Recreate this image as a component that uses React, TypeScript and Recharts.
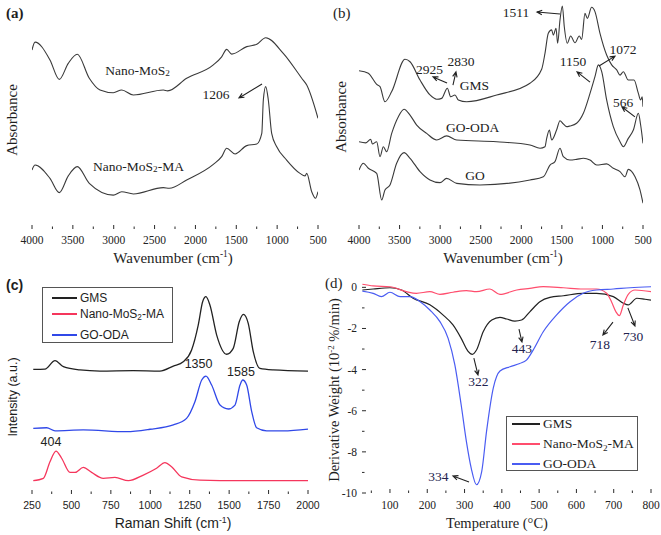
import React from "react"
import { LineChart, Line, XAxis, YAxis, ReferenceArea, ReferenceDot, ReferenceLine } from "recharts"

const SERIF = '"Liberation Serif", "Times New Roman", serif'
const SANS = '"Liberation Sans", Arial, sans-serif'
const INK = "#2b2b2b"

// (a) FTIR, nano-MoS2 samples
const wnMoS2 = [4000, 3963, 3780, 3666, 3556, 3446, 3299, 3168, 3005, 2902, 2760, 2393, 2340, 2107, 1781, 1679, 1617, 1556, 1372, 1249, 1140, 925, 699, 638, 500]
const absMoS2 = [79.2, 82.7, 74.8, 66.2, 73.3, 77.3, 66.7, 61.5, 60.3, 61.5, 59.3, 61.5, 61.1, 66.7, 72.6, 76.2, 79.5, 77.4, 80.7, 81.7, 84.6, 77.7, 66.7, 63.7, 49.0]
const wnMoS2MA = [4000, 3963, 3780, 3666, 3556, 3446, 3299, 3005, 2902, 2760, 2393, 2320, 2107, 1781, 1679, 1617, 1515, 1372, 1249, 1188, 1169, 1140, 1108, 1067, 1005, 884, 720, 660, 638, 577, 530, 500]
const absMoS2MA = [26.1, 28.3, 22.4, 16.1, 23.5, 27.6, 20.2, 15.0, 16.5, 15.5, 18.3, 18.0, 21.7, 28.6, 32.0, 35.7, 33.2, 36.9, 37.6, 42.3, 57.1, 63.0, 57.1, 42.3, 36.4, 30.5, 24.6, 23.5, 24.6, 16.5, 13.6, 16.5]

// (b) FTIR, graphene samples
const wnGMS = [4000, 3885, 3782, 3741, 3680, 3597, 3433, 3371, 3248, 3125, 3043, 2981, 2911, 2870, 2817, 2776, 2673, 2303, 1893, 1749, 1708, 1667, 1626, 1605, 1572, 1552, 1523, 1494, 1470, 1433, 1392, 1338, 1285, 1256, 1215, 1186, 1133, 1092, 1030, 948, 886, 824, 783, 742, 681, 611, 557, 529, 510, 500]
const absGMS = [70.0, 68.9, 64.0, 63.0, 56.3, 60.8, 75.1, 74.0, 65.9, 59.3, 57.4, 57.8, 62.3, 58.5, 59.3, 57.1, 56.3, 59.3, 64.5, 70.7, 77.7, 86.6, 88.1, 85.8, 88.8, 82.2, 92.5, 98.7, 89.5, 82.2, 85.4, 82.4, 85.4, 83.9, 95.4, 93.2, 98.1, 96.2, 86.6, 77.0, 72.6, 70.4, 68.1, 69.6, 65.9, 65.9, 60.0, 57.1, 58.5, 54.1]
const wnGOODA = [4000, 3918, 3856, 3835, 3782, 3741, 3700, 3659, 3597, 3515, 3445, 3371, 3289, 3166, 3043, 2920, 2796, 2303, 1893, 1769, 1708, 1687, 1654, 1626, 1565, 1523, 1482, 1441, 1400, 1318, 1235, 1153, 1092, 1050, 1009, 948, 866, 783, 742, 681, 619, 557, 529, 500]
const absGOODA = [38.6, 38.1, 39.7, 37.6, 38.6, 32.0, 36.4, 34.2, 42.3, 49.7, 53.0, 50.4, 46.0, 42.3, 39.4, 41.2, 39.4, 38.6, 37.2, 35.7, 36.4, 40.1, 43.8, 39.4, 43.8, 47.9, 46.5, 45.3, 45.6, 46.8, 51.2, 60.0, 67.4, 72.6, 69.6, 57.1, 45.3, 38.6, 36.4, 40.1, 43.8, 51.2, 46.0, 37.9]
const wnGO = [4000, 3947, 3885, 3782, 3720, 3680, 3618, 3536, 3445, 3371, 3248, 3125, 3002, 2920, 2796, 2509, 1893, 1728, 1646, 1585, 1523, 1482, 1400, 1318, 1235, 1153, 1071, 948, 866, 783, 722, 681, 598, 537, 500]
const absGO = [26.1, 29.1, 26.9, 24.6, 12.8, 17.3, 19.5, 29.1, 33.8, 31.3, 25.4, 21.7, 20.5, 22.4, 20.2, 19.5, 21.7, 23.1, 28.3, 29.8, 35.7, 32.0, 30.5, 30.8, 31.3, 30.5, 28.3, 28.8, 26.9, 25.4, 23.1, 26.4, 23.1, 17.3, 11.4]

// (c) Raman
const ramGMS = [258, 332, 396, 449, 554, 681, 892, 1061, 1146, 1209, 1262, 1304, 1332, 1353, 1378, 1421, 1484, 1526, 1564, 1590, 1621, 1653, 1695, 1780, 2000]
const intGMS = [57.2, 57.3, 61.2, 58.4, 56.9, 56.4, 56.6, 56.4, 58.7, 60.7, 66.1, 77.5, 88.2, 90.5, 86.7, 72.9, 64.1, 66.8, 79.0, 82.4, 78.3, 65.3, 57.6, 56.9, 56.4]
const ramMA = [258, 322, 364, 402, 438, 491, 523, 575, 628, 702, 776, 861, 956, 1040, 1093, 1135, 1199, 1315, 1569, 2000]
const intMA = [6.1, 7.2, 14.8, 19.7, 16.4, 9.9, 9.9, 12.2, 9.9, 7.2, 7.6, 6.1, 8.7, 11.8, 14.4, 12.5, 7.9, 6.4, 6.1, 6.1]
const ramODA = [258, 343, 396, 575, 850, 998, 1146, 1230, 1283, 1326, 1353, 1389, 1442, 1495, 1537, 1569, 1586, 1611, 1643, 1674, 1738, 1843, 2000]
const intODA = [30.1, 30.4, 29.0, 29.4, 28.6, 29.7, 31.7, 34.7, 42.3, 52.3, 54.1, 50.0, 40.8, 39.0, 40.8, 50.0, 52.3, 50.0, 37.8, 30.4, 29.0, 29.0, 29.8]

// (d) DTG
const tGMS = [26, 55, 100, 131, 162, 207, 242, 269, 291, 309, 321, 332, 350, 373, 395, 413, 435, 453, 475, 502, 529, 565, 618, 654, 699, 726, 739, 762, 784, 800]
const dGMS = [-0.13, -0.08, -0.02, -0.13, -0.53, -0.85, -1.34, -1.83, -2.48, -3.10, -3.26, -3.05, -2.16, -1.59, -1.46, -1.54, -1.64, -1.59, -1.19, -0.70, -0.49, -0.41, -0.29, -0.29, -0.45, -0.77, -0.85, -0.53, -0.58, -0.62]
const tMA = [26, 55, 100, 144, 171, 207, 234, 269, 305, 332, 368, 395, 440, 475, 511, 565, 618, 654, 681, 694, 706, 715, 726, 739, 757, 800]
const dMA = [0.15, 0.07, 0.03, -0.21, -0.29, -0.21, -0.34, -0.24, -0.16, -0.21, -0.08, -0.34, -0.13, -0.05, 0.03, -0.02, -0.08, -0.08, -0.29, -0.70, -1.19, -1.38, -0.85, -0.34, -0.13, -0.21]
const tODA = [26, 55, 77, 100, 127, 154, 181, 207, 234, 256, 274, 291, 305, 318, 332, 346, 359, 377, 395, 422, 448, 466, 484, 511, 547, 583, 618, 654, 699, 744, 800]
const dODA = [-0.18, -0.29, -0.45, -0.24, -0.45, -0.45, -0.70, -1.10, -1.67, -2.48, -3.77, -5.72, -7.5, -8.8, -9.6, -8.96, -7.0, -4.9, -4.07, -3.86, -3.7, -3.54, -3.05, -2.16, -1.34, -0.70, -0.29, -0.13, -0.08, -0.02, 0.03]

const ftirTicks = [4000, 3750, 3500, 3250, 3000, 2750, 2500, 2250, 2000, 1750, 1500, 1250, 1000, 750, 500]
const ramTicks = [250, 375, 500, 625, 750, 875, 1000, 1125, 1250, 1375, 1500, 1625, 1750, 1875, 2000]
const tempTicks = [50, 100, 150, 200, 250, 300, 350, 400, 450, 500, 550, 600, 650, 700, 750, 800]
const dtgTicks = [-10, -9, -8, -7, -6, -5, -4, -3, -2, -1, 0]

const ramanSeries = [
  { name: "GMS", color: "#222222" },
  { name: "Nano-MoS2-MA", color: "#f5365c" },
  { name: "GO-ODA", color: "#3048e8" },
]
const dtgSeries = [
  { name: "GMS", color: "#222222" },
  { name: "Nano-MoS2-MA", color: "#ff4d6d" },
  { name: "GO-ODA", color: "#4a5cf2" },
]

// peak labels: [text, x, y]
const notesA: [string, number, number][] = [["Nano-MoS2", 2709, 70.4], ["1206", 1748, 59.3], ["Nano-MoS2-MA", 2697, 27.9]]
const arrowsA = [[1185, 64.2, 1467, 58.0]]
const notesB: [string, number, number][] = [["1511", 2065, 95.6], ["2925", 3131, 70.4], ["2830", 2743, 73.9], ["GMS", 2577, 63.7], ["1150", 1363, 73.9], ["1072", 746, 79.6], ["566", 746, 55.8], ["GO-ODA", 2601, 44.7], ["GO", 2570, 23.5]]
const arrowsB = [[1523, 95.1, 1806, 96.0], [2915, 64.6, 3088, 67.3], [2842, 63.7, 2805, 69.5], [1153, 65.0, 1313, 69.5], [1042, 72.1, 845, 76.5], [599, 49.6, 759, 54.0]]
const notesC: [string, number, number][] = [["1350", 1306, 59.6], ["1585", 1575, 56.0], ["404", 370, 23.9]]
const notesD: [string, number, number][] = [["322", 337, -4.6], ["443", 454, -2.95], ["718", 663, -2.8], ["730", 752, -2.41], ["334", 230, -9.22]]
const arrowsD = [[325, -3.44, 336, -4.26], [446, -2.03, 454, -2.66], [698, -1.69, 671, -2.32], [738, -1.0, 757, -1.88], [312, -9.46, 269, -9.17]]

const pts = (xs: number[], ys: number[]) => xs.map((x, i) => ({ x, y: ys[i] }))

function chem(s: string, svg: boolean) {
  const i = s.indexOf("MoS2")
  if (i < 0) return s
  const pre = s.slice(0, i + 3)
  const post = s.slice(i + 4)
  if (svg)
    return [
      <tspan key="a">{pre}</tspan>,
      <tspan key="b" fontSize="0.68em" dy={3}>2</tspan>,
      <tspan key="c" dy={-3}>{post}</tspan>,
    ]
  return (
    <>
      {pre}
      <span style={{ fontSize: "0.68em", position: "relative", top: "0.3em" }}>2</span>
      {post}
    </>
  )
}

const bottomTick = (bottom: number, step: number, font: string, size: number, dy: number) => (p: any) => {
  const v = p.payload.value
  const major = Math.abs(v % step) < 1e-6
  return (
    <g>
      <line x1={p.x} x2={p.x} y1={bottom} y2={bottom - (major ? 4 : 2.5)} stroke={INK} />
      {major && (
        <text x={p.x} y={bottom + dy} textAnchor="middle" fontFamily={font} fontSize={size} fill="#222">
          {v}
        </text>
      )}
    </g>
  )
}

const leftTick = (left: number) => (p: any) => {
  const v = p.payload.value
  const major = v % 2 === 0
  return (
    <g>
      <line x1={left} x2={left + (major ? 4 : 2.5)} y1={p.y} y2={p.y} stroke={INK} />
      {major && (
        <text x={left - 5} y={p.y + 4} textAnchor="end" fontFamily={SERIF} fontSize={11.5} fill="#222">
          {v}
        </text>
      )}
    </g>
  )
}

const arrowShape = (p: any) => {
  const { x1, y1, x2, y2 } = p
  const a = Math.atan2(y2 - y1, x2 - x1)
  const L = 5.5
  const s = 0.42
  const hx1 = x2 - L * Math.cos(a - s)
  const hy1 = y2 - L * Math.sin(a - s)
  const hx2 = x2 - L * Math.cos(a + s)
  const hy2 = y2 - L * Math.sin(a + s)
  return <path d={`M${x1},${y1}L${x2},${y2}M${hx1},${hy1}L${x2},${y2}L${hx2},${hy2}`} stroke="#222" strokeWidth={1.1} fill="none" />
}

const notes = (list: [string, number, number][], font: string, size: number, color = "#222") =>
  list.map(([t, x, y]) => (
    <ReferenceDot
      key={t + x}
      x={x}
      y={y}
      ifOverflow="visible"
      shape={(p: any) => (
        <text x={p.cx} y={p.cy} textAnchor="middle" dominantBaseline="central" fontFamily={font} fontSize={size} fill={color}>
          {chem(t, true)}
        </text>
      )}
    />
  ))

const arrows = (list: number[][]) =>
  list.map(([x1, y1, x2, y2], i) => (
    <ReferenceLine key={"ar" + i} segment={[{ x: x1, y: y1 }, { x: x2, y: y2 }]} ifOverflow="visible" shape={arrowShape} />
  ))

const frame = <ReferenceArea fill="none" stroke={INK} strokeWidth={1.2} ifOverflow="visible" />

function Txt({ x, y, size, font = SERIF, rotate = false, weight = "normal", anchor = "middle", children }: any) {
  const tx = anchor === "middle" ? "-50%" : anchor === "end" ? "-100%" : "0"
  return (
    <div
      style={{
        position: "absolute",
        left: x,
        top: y,
        transform: `translate(${tx},-50%)${rotate ? " rotate(-90deg)" : ""}`,
        fontFamily: font,
        fontSize: size,
        fontWeight: weight,
        whiteSpace: "nowrap",
        lineHeight: 1,
        color: "#1e1e1e",
      }}
    >
      {children}
    </div>
  )
}

const cm = (
  <>
    (cm<span style={{ fontSize: "0.62em", position: "relative", top: "-0.6em" }}>-1</span>)
  </>
)

function LegendBox({ items, left, top, width, height, rows, lineX, lineW, textX, font, size, lw }: any) {
  return (
    <>
      <div style={{ position: "absolute", left, top, width, height, border: "1px solid #555", background: "#fff", boxSizing: "border-box" }} />
      {items.map((s: any, i: number) => (
        <React.Fragment key={s.name}>
          <div style={{ position: "absolute", left: lineX, top: rows[i] - lw / 2, width: lineW, height: lw, background: s.color }} />
          <Txt x={textX} y={rows[i]} size={size} font={font} anchor="start">
            {chem(s.name, false)}
          </Txt>
        </React.Fragment>
      ))}
    </>
  )
}

export default function App() {
  return (
    <div style={{ position: "absolute", left: 0, top: 0, width: 661, height: 535, background: "#fff", overflow: "hidden" }}>
      {/* (a) */}
      <div style={{ position: "absolute", left: 0, top: 0 }}>
        <LineChart width={330} height={265} margin={{ top: 3, right: 12, bottom: 6, left: 32 }}>
          <XAxis type="number" dataKey="x" domain={[500, 4000]} reversed ticks={ftirTicks} interval={0} height={30} axisLine={false} tickLine={false} tick={bottomTick(229, 500, SERIF, 11.5, 15)} allowDataOverflow />
          <YAxis type="number" domain={[0, 100]} hide />
          {frame}
          <Line data={pts(wnMoS2, absMoS2)} dataKey="y" type="monotone" stroke="#3a3a3a" strokeWidth={1.1} dot={false} isAnimationActive={false} />
          <Line data={pts(wnMoS2MA, absMoS2MA)} dataKey="y" type="monotone" stroke="#3a3a3a" strokeWidth={1.1} dot={false} isAnimationActive={false} />
          {notes(notesA, SERIF, 13.5)}
          {arrows(arrowsA)}
        </LineChart>
      </div>

      {/* (b) */}
      <div style={{ position: "absolute", left: 330, top: 0 }}>
        <LineChart width={331} height={265} margin={{ top: 3, right: 18, bottom: 6, left: 29 }}>
          <XAxis type="number" dataKey="x" domain={[500, 4000]} reversed ticks={ftirTicks} interval={0} height={30} axisLine={false} tickLine={false} tick={bottomTick(229, 500, SERIF, 11.5, 15)} allowDataOverflow />
          <YAxis type="number" domain={[0, 100]} hide />
          {frame}
          <Line data={pts(wnGMS, absGMS)} dataKey="y" type="monotone" stroke="#3a3a3a" strokeWidth={1.1} dot={false} isAnimationActive={false} />
          <Line data={pts(wnGOODA, absGOODA)} dataKey="y" type="monotone" stroke="#3a3a3a" strokeWidth={1.1} dot={false} isAnimationActive={false} />
          <Line data={pts(wnGO, absGO)} dataKey="y" type="monotone" stroke="#3a3a3a" strokeWidth={1.1} dot={false} isAnimationActive={false} />
          {notes(notesB, SERIF, 13.5)}
          {arrows(arrowsB)}
        </LineChart>
      </div>

      {/* (c) */}
      <div style={{ position: "absolute", left: 0, top: 265 }}>
        <LineChart width={330} height={270} margin={{ top: 11, right: 22, bottom: 11, left: 32 }}>
          <XAxis type="number" dataKey="x" domain={[250, 2000]} ticks={ramTicks} interval={0} height={30} axisLine={false} tickLine={false} tick={bottomTick(229, 250, SANS, 10.5, 15)} allowDataOverflow />
          <YAxis type="number" domain={[0, 100]} hide />
          {frame}
          <Line data={pts(ramGMS, intGMS)} dataKey="y" type="monotone" stroke={ramanSeries[0].color} strokeWidth={1.3} dot={false} isAnimationActive={false} />
          <Line data={pts(ramODA, intODA)} dataKey="y" type="monotone" stroke={ramanSeries[2].color} strokeWidth={1.3} dot={false} isAnimationActive={false} />
          <Line data={pts(ramMA, intMA)} dataKey="y" type="monotone" stroke={ramanSeries[1].color} strokeWidth={1.3} dot={false} isAnimationActive={false} />
          {notes(notesC, SANS, 12.5)}
        </LineChart>
      </div>

      {/* (d) */}
      <div style={{ position: "absolute", left: 330, top: 265 }}>
        <LineChart width={331} height={270} margin={{ top: 10, right: 10, bottom: 12, left: 2 }}>
          <XAxis type="number" dataKey="x" domain={[25, 800]} ticks={tempTicks} interval={0} height={30} axisLine={false} tickLine={false} tick={bottomTick(228, 100, SERIF, 11.5, 16)} allowDataOverflow />
          <YAxis type="number" domain={[-10, 0.6]} ticks={dtgTicks} interval={0} width={30} axisLine={false} tickLine={false} tick={leftTick(32)} allowDataOverflow />
          {frame}
          <Line data={pts(tGMS, dGMS)} dataKey="y" type="monotone" stroke={dtgSeries[0].color} strokeWidth={1.2} dot={false} isAnimationActive={false} />
          <Line data={pts(tMA, dMA)} dataKey="y" type="monotone" stroke={dtgSeries[1].color} strokeWidth={1.2} dot={false} isAnimationActive={false} />
          <Line data={pts(tODA, dODA)} dataKey="y" type="monotone" stroke={dtgSeries[2].color} strokeWidth={1.2} dot={false} isAnimationActive={false} />
          {notes(notesD, SERIF, 13.5, "#23234f")}
          {arrows(arrowsD)}
        </LineChart>
      </div>

      {/* panel tags and axis titles */}
      <Txt x={6} y={13} size={15} weight="bold" anchor="start">(a)</Txt>
      <Txt x={333} y={13} size={15} anchor="start">(b)</Txt>
      <Txt x={6} y={285} size={14} font={SANS} weight="bold" anchor="start">(c)</Txt>
      <Txt x={325} y={283} size={15} anchor="start">(d)</Txt>

      <Txt x={12} y={120} size={15} rotate>Absorbance</Txt>
      <Txt x={173} y={258} size={15}>Wavenumber {cm}</Txt>
      <Txt x={341} y={117} size={15} rotate>Absorbance</Txt>
      <Txt x={503} y={258} size={15}>Wavenumber {cm}</Txt>

      <Txt x={13} y={397} size={12.5} font={SANS} rotate>Intensity (a.u.)</Txt>
      <Txt x={173} y={523} size={14} font={SANS}>Raman Shift {cm}</Txt>

      <Txt x={334} y={390} size={14.5} rotate>
        Derivative Weight (10<span style={{ fontSize: "0.62em", position: "relative", top: "-0.6em" }}>-2</span> %/min)
      </Txt>
      <Txt x={497} y={523} size={14.5}>Temperature (°C)</Txt>

      <LegendBox items={ramanSeries} left={42} top={287} width={131} height={56} rows={[298, 314, 335]} lineX={52} lineW={25} textX={80} font={SANS} size={12} lw={2} />
      <LegendBox items={dtgSeries} left={506} top={416} width={132} height={55} rows={[424, 444, 464]} lineX={512} lineW={28} textX={543} font={SERIF} size={13.5} lw={1.5} />
    </div>
  )
}
